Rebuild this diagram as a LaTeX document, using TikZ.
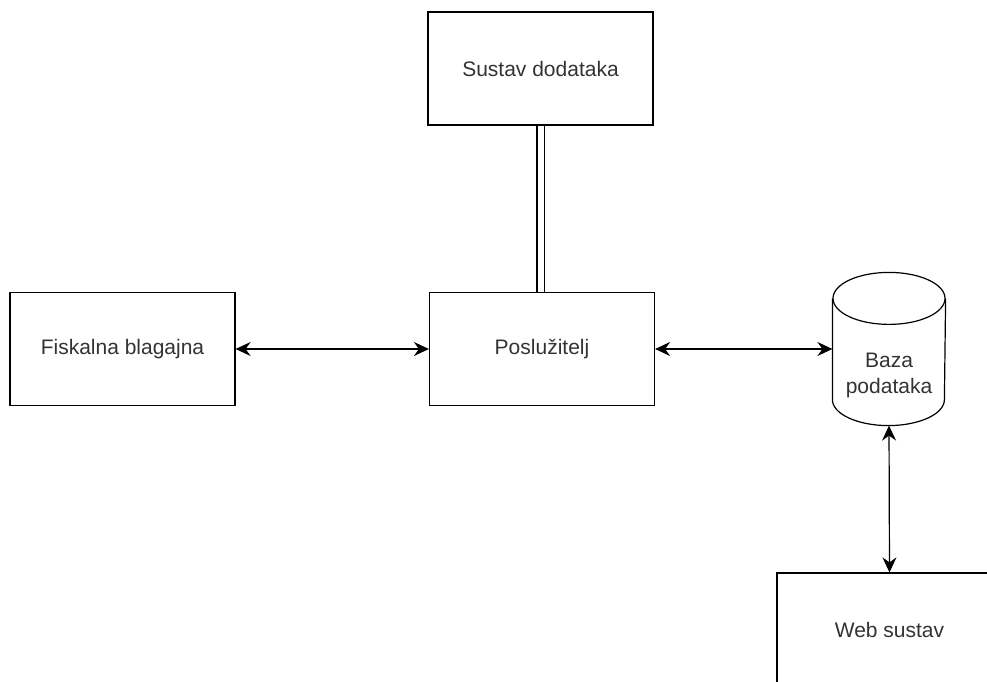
\documentclass[tikz,border=0pt]{standalone}
\usepackage{fontspec}
\setmainfont{Liberation Sans}
\usetikzlibrary{arrows.meta,positioning}

\begin{document}
\begin{tikzpicture}[x=1pt,y=-1pt,line width=1.2pt,
  box/.style={rectangle,draw,minimum width=225pt,minimum height=113pt,inner sep=0pt,
    font=\fontsize{21}{26}\selectfont,text=black!80},
  link/.style={>={Stealth[length=15pt,width=14pt,inset=5pt]},<->}]
  \useasboundingbox (0,0) rectangle (987,682);
        %%%%%%%%%%%%%%%%%%%%%%%%%%%boxes%%%%%%%%%%%%%%%%%%%%%%
          \node (1) at (540.5,68.5) [box] {Sustav dodataka};
          \node (2) at (122.5,349)  [box] {Fiskalna blagajna};
          \node (3) at (542,349)    [box] {Poslužitelj};
          \node (4) at (889,349)    [minimum width=112pt,minimum height=152pt,inner sep=0pt] {};
          \node (5) at ([yshift=-26pt]4.center) [align=center,font=\fontsize{21}{26}\selectfont,text=black!80] {Baza\\podataka};
          \node (6) at (889.5,629.5) [box] {Web sustav};

        %%%%%%%%%%%%%%%%%%%%%%%%%%%cylinder%%%%%%%%%%%%%%%%%%%%%%
          \draw ([yshift=-26pt]4.north) ellipse [x radius=56pt,y radius=26pt];
          \draw ([yshift=-26pt]4.north west) -- ([yshift=26pt]4.south west)
          arc [start angle=180,end angle=360,x radius=56pt,y radius=26pt]
          -- ([yshift=-26pt]4.north east);

        %%%%%%%%%%%%%%%%%%%%%%%%%%%links%%%%%%%%%%%%%%%%%%%%%%
          \draw [double,double distance=6pt](1.south) -- (1.south |- 3.north);
          \draw [link](2) -- (3);
          \draw [link](3) -- (4);
          \draw [link](4.south) -- (6.north);
\end{tikzpicture}
\end{document}
